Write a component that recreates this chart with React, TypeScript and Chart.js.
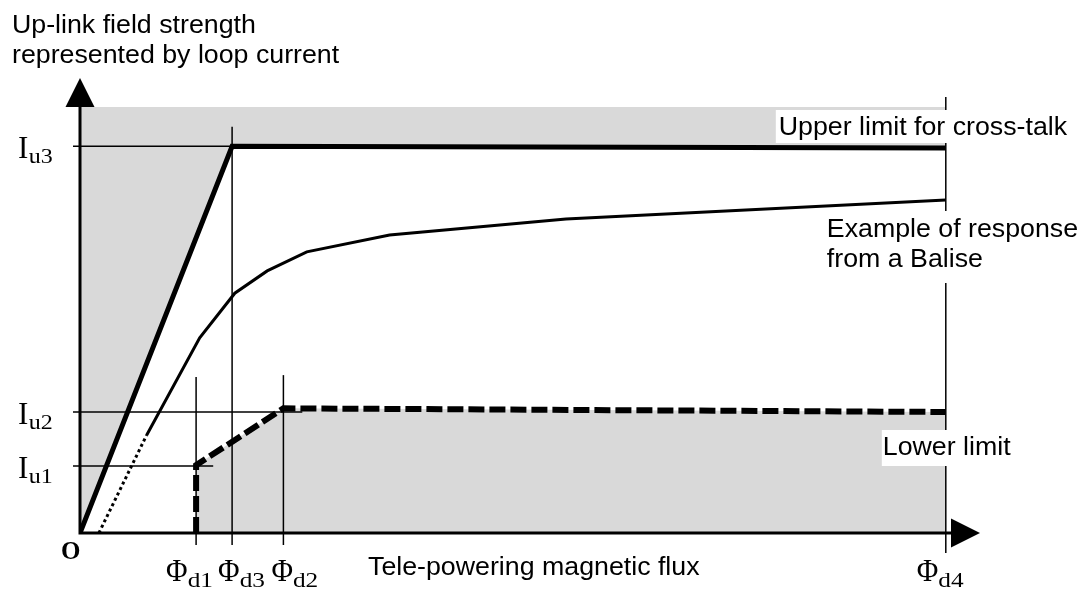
import React, { useEffect, useRef } from "react";
import { Chart, registerables } from "chart.js";

Chart.register(...registerables);

// ---- data (diagram units: x = tele-powering flux, y = up-link current) ----
const fluxValues = [12.9, 16.9, 22.6, 96.2]; // Φd1, Φd3, Φd2, Φd4
const fluxSubs = ["d1", "d3", "d2", "d4"];
const fluxLineTop = [34.3, 89.3, 34.7, 95.8];

const levelValues = [14.7, 26.6, 85.0]; // Iu1, Iu2, Iu3
const levelSubs = ["u1", "u2", "u3"];
const levelLineEnd = [14.8, 24.7, 16.9];

const crossTalkCeiling = 93.6;

const upperLimitX = [0, 16.9, 96.2];
const upperLimitY = [0, 85.0, 84.6];

const lowerLimitX = [12.9, 12.9, 22.6, 96.2];
const lowerLimitY = [0, 14.9, 27.4, 26.6];

const responseX = [2.1, 7.4, 13.3, 17.2, 20.8, 25.2, 34.4, 54.0, 96.2];
const responseY = [0, 21.5, 42.9, 52.7, 57.6, 61.8, 65.5, 69.0, 73.2];

const zip = (xs: number[], ys: number[]) => xs.map((x, i) => ({ x, y: ys[i] }));

const GRAY = "#d9d9d9";
const SANS = "'Liberation Sans', Arial, sans-serif";
const SERIF = "'Liberation Serif', 'Times New Roman', serif";

function drawText(ctx: CanvasRenderingContext2D, text: string, x: number, y: number, font: string, sx = 1) {
  ctx.save();
  ctx.font = font;
  ctx.textAlign = "left";
  ctx.textBaseline = "alphabetic";
  ctx.fillStyle = "#000";
  ctx.translate(x, y);
  ctx.scale(sx, 1);
  ctx.fillText(text, 0, 0);
  const w = ctx.measureText(text).width * sx;
  ctx.restore();
  return w;
}

function whiteBox(ctx: CanvasRenderingContext2D, x0: number, y0: number, x1: number, y1: number) {
  ctx.save();
  ctx.fillStyle = "#fff";
  ctx.fillRect(x0, y0, x1 - x0, y1 - y0);
  ctx.restore();
}

const annotations = {
  id: "annotations",
  afterDatasetsDraw(chart: any) {
    const ctx: CanvasRenderingContext2D = chart.ctx;
    const xs = chart.scales.x;
    const ys = chart.scales.y;
    const area = chart.chartArea;
    const X = (v: number) => xs.getPixelForValue(v);
    const Y = (v: number) => ys.getPixelForValue(v);
    const ox = X(0);
    const oy = Y(0);

    ctx.save();
    ctx.strokeStyle = "#000";
    ctx.lineCap = "butt";

    // reference lines for levels
    ctx.lineWidth = 1.5;
    levelValues.forEach((v, i) => {
      ctx.beginPath();
      ctx.moveTo(ox - 7, Y(v));
      ctx.lineTo(X(levelLineEnd[i]), Y(v));
      ctx.stroke();
    });
    // reference lines for flux values
    fluxValues.forEach((v, i) => {
      ctx.beginPath();
      ctx.moveTo(X(v), Y(fluxLineTop[i]));
      ctx.lineTo(X(v), oy + (i === 3 ? 20 : 12));
      ctx.stroke();
    });

    // axes
    const arrowLen = 29;
    const arrowHalf = 14.5;
    ctx.lineWidth = 3;
    ctx.beginPath();
    ctx.moveTo(ox, oy);
    ctx.lineTo(ox, area.top + arrowLen);
    ctx.moveTo(ox - 1.5, oy);
    ctx.lineTo(area.right - arrowLen, oy);
    ctx.stroke();
    ctx.fillStyle = "#000";
    ctx.beginPath();
    ctx.moveTo(ox, area.top);
    ctx.lineTo(ox - arrowHalf, area.top + arrowLen);
    ctx.lineTo(ox + arrowHalf, area.top + arrowLen);
    ctx.closePath();
    ctx.fill();
    ctx.beginPath();
    ctx.moveTo(area.right, oy);
    ctx.lineTo(area.right - arrowLen, oy - arrowHalf);
    ctx.lineTo(area.right - arrowLen, oy + arrowHalf);
    ctx.closePath();
    ctx.fill();
    ctx.restore();

    const sansFont = `25px ${SANS}`;
    const sx = 1.07;

    // axis titles
    drawText(ctx, "Up-link field strength", 12, 33, sansFont, sx);
    drawText(ctx, "represented by loop current", 12, 63, sansFont, sx);
    drawText(ctx, "Tele-powering magnetic flux", 368, 575, sansFont, sx);

    // series labels with white backgrounds
    const xd4 = X(fluxValues[3]);
    whiteBox(ctx, xd4 - 170, 110, xd4 + 126, 143);
    drawText(ctx, "Upper limit for cross-talk", xd4 - 167, 135, sansFont, sx);
    whiteBox(ctx, xd4 - 123, 211, xd4 + 134, 283);
    drawText(ctx, "Example of response", xd4 - 119, 237, sansFont, sx);
    drawText(ctx, "from a Balise", xd4 - 119, 267, sansFont, sx);
    whiteBox(ctx, xd4 - 64, 430, xd4 + 64, 466);
    drawText(ctx, "Lower limit", xd4 - 63, 455, sansFont, sx);

    // origin label
    drawText(ctx, "O", ox - 19, oy + 26, `bold 25px ${SERIF}`);

    // level labels  I_u
    levelValues.forEach((v, i) => {
      const y = Y(v);
      const w = drawText(ctx, "I", 18, y + 12, `31px ${SERIF}`);
      drawText(ctx, levelSubs[i], 18 + w + 0.5, y + 17, `20px ${SERIF}`, 1.2);
    });

    // flux labels  Φ_d
    const fluxLabelOffsets = [-30, -14, -12, -29];
    fluxValues.forEach((v, i) => {
      const x = X(v) + fluxLabelOffsets[i];
      const w = drawText(ctx, "Φ", x, oy + 48, `31px ${SERIF}`, 0.95);
      drawText(ctx, fluxSubs[i], x + w, oy + 54, `22px ${SERIF}`, 1.15);
    });
  },
};

export default function App() {
  const canvasRef = useRef<HTMLCanvasElement | null>(null);

  useEffect(() => {
    if (!canvasRef.current) return;
    const chart = new Chart(canvasRef.current, {
      type: "scatter",
      data: {
        datasets: [
          {
            label: "Upper limit for cross-talk",
            data: zip(upperLimitX, upperLimitY),
            showLine: true,
            borderColor: "#000",
            borderWidth: 5,
            backgroundColor: GRAY,
            fill: { value: crossTalkCeiling },
            pointRadius: 0,
            borderJoinStyle: "miter",
          },
          {
            label: "Lower limit",
            data: zip(lowerLimitX, lowerLimitY),
            showLine: true,
            borderColor: "#000",
            borderWidth: 6,
            borderDash: [16, 5],
            backgroundColor: GRAY,
            fill: "origin",
            pointRadius: 0,
          },
          {
            label: "Example of response from a Balise",
            data: zip(responseX, responseY),
            showLine: true,
            borderColor: "#000",
            borderWidth: 3,
            fill: false,
            pointRadius: 0,
            segment: {
              borderDash: (c: any) => (c.p0DataIndex === 0 ? [3, 3] : undefined),
            },
          },
        ],
      },
      options: {
        animation: false,
        responsive: true,
        maintainAspectRatio: false,
        layout: { padding: { left: 80, top: 78, right: 103, bottom: 56 } },
        scales: {
          x: { type: "linear", min: 0, max: 100, display: false },
          y: { type: "linear", min: 0, max: 100, display: false },
        },
        plugins: {
          legend: { display: false },
          tooltip: { enabled: false },
        },
      } as any,
      plugins: [annotations],
    });
    return () => chart.destroy();
  }, []);

  return (
    <div style={{ position: "absolute", left: 0, top: 0, width: 1083, height: 589, background: "#fff" }}>
      <canvas ref={canvasRef} />
    </div>
  );
}
